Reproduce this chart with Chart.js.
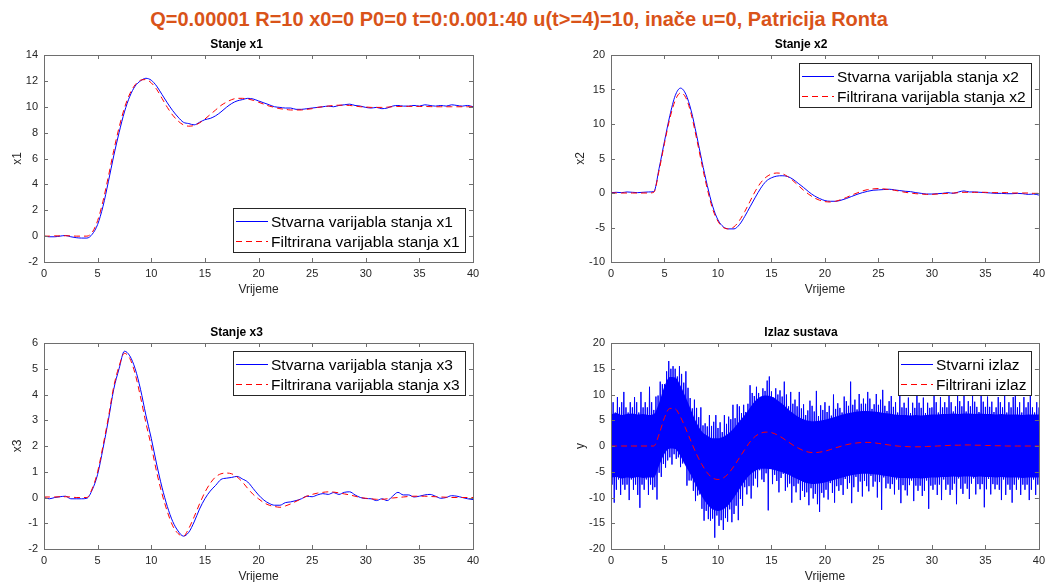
<!DOCTYPE html>
<html>
<head>
<meta charset="utf-8">
<script src="https://cdn.jsdelivr.net/npm/chart.js@4.4.1/dist/chart.umd.min.js"></script>
<style>
  html, body { margin: 0; padding: 0; background: #fff; }
  body { width: 1050px; height: 582px; overflow: hidden; position: relative; }
  #naslov {
    position: absolute; left: 0; top: 7px; width: 1038px; text-align: center;
    font: bold 20px "Liberation Sans", Arial, sans-serif; line-height: 24px;
    color: #D95319; white-space: nowrap;
  }
  canvas { position: absolute; }
</style>
</head>
<body>
<div id="naslov">Q=0.00001 R=10 x0=0 P0=0 t=0:0.001:40 u(t&gt;=4)=10, inače u=0, Patricija Ronta</div>
<canvas id="c1" width="500" height="272" style="left:0;top:30px"></canvas>
<canvas id="c2" width="487" height="272" style="left:563px;top:30px"></canvas>
<canvas id="c3" width="500" height="271" style="left:0;top:318px"></canvas>
<canvas id="c4" width="487" height="271" style="left:563px;top:318px"></canvas>
<script>
// vremenska os: t = 0:0.5:40
var vrijeme = [];
for (var i = 0; i <= 80; i++) vrijeme.push(i * 0.5);

var stvarnoX1 = [0, -0.05, -0.05, 0, 0.05, -0.05, -0.12, -0.15, -0.15, 0.15,
  0.9, 2.3, 4.2, 6.2, 8.0, 9.6, 10.8, 11.6, 12.0, 12.2,
  12.05, 11.6, 10.95, 10.3, 9.7, 9.2, 8.8, 8.7, 8.6, 8.8,
  9.0, 9.1, 9.3, 9.6, 9.95, 10.25, 10.45, 10.55, 10.65, 10.6,
  10.45, 10.3, 10.15, 10.0, 9.95, 9.9, 9.9, 9.8, 9.8, 9.85,
  9.9, 9.95, 10.0, 10.05, 10.0, 10.1, 10.15, 10.2, 10.1, 10.05,
  9.95, 9.9, 9.95, 9.85, 9.9, 10.05, 10.1, 10.05, 10.05, 10.1,
  10.05, 10.15, 10.1, 10.05, 10.1, 10.05, 10.15, 10.1, 10.05, 10.1,
  10.0];
var filtX1 = [0, 0, 0.02, 0.02, 0.03, 0.02, 0, 0, 0, 0.3,
  1.2, 2.7, 4.6, 6.6, 8.4, 9.9, 11.0, 11.7, 12.05, 12.1,
  11.85, 11.35, 10.65, 9.95, 9.35, 8.9, 8.6, 8.5, 8.55, 8.75,
  9.05, 9.4, 9.75, 10.1, 10.35, 10.55, 10.65, 10.65, 10.6, 10.5,
  10.35, 10.2, 10.05, 9.95, 9.85, 9.8, 9.75, 9.75, 9.75, 9.8,
  9.85, 9.95, 10.0, 10.05, 10.1, 10.12, 10.12, 10.1, 10.05, 10.0,
  9.98, 9.95, 9.95, 9.95, 9.97, 10.0, 10.02, 10.03, 10.03, 10.03,
  10.02, 10.02, 10.01, 10.0, 10.0, 10.0, 10.0, 10.0, 10.0, 10.0,
  10.0];

var stvarnoX2 = [0.05, 0.1, 0.05, 0.15, 0.1, 0.05, 0.1, 0.15, 0.2, 3.6,
  7.5, 11.2, 14.1, 15.2, 14.3, 11.9, 8.4, 4.6, 1.1, -1.9,
  -3.9, -4.9, -5.2, -5.2, -4.6, -3.4, -2.0, -0.6, 0.7, 1.7,
  2.2, 2.45, 2.5, 2.4, 2.0, 1.4, 0.8, 0.15, -0.4, -0.8,
  -1.1, -1.2, -1.2, -1.05, -0.8, -0.5, -0.2, 0.05, 0.25, 0.4,
  0.45, 0.5, 0.55, 0.45, 0.35, 0.25, 0.2, 0.05, -0.05, -0.15,
  -0.15, -0.1, -0.05, 0.05, -0.05, 0.15, 0.3, 0.15, 0.15, 0.1,
  0.05, 0, -0.05, -0.05, -0.1, -0.1, -0.05, -0.1, -0.2, -0.15,
  -0.3];
var filtX2 = [0, 0, 0, 0, 0, 0, 0, 0, 0.1, 3.3,
  7.2, 10.8, 13.4, 14.5, 13.8, 11.4, 7.9, 4.1, 0.6, -2.3,
  -4.1, -5.0, -5.2, -4.9, -4.0, -2.7, -1.2, 0.3, 1.5, 2.3,
  2.75, 2.9, 2.8, 2.4, 1.8, 1.1, 0.4, -0.2, -0.7, -1.05,
  -1.25, -1.3, -1.2, -0.95, -0.65, -0.3, 0, 0.3, 0.5, 0.6,
  0.65, 0.6, 0.5, 0.4, 0.25, 0.1, 0, -0.1, -0.15, -0.2,
  -0.2, -0.15, -0.1, -0.05, 0, 0.05, 0.1, 0.1, 0.1, 0.1,
  0.1, 0.05, 0.05, 0.05, 0.05, 0, 0, 0, 0, -0.05,
  -0.05];

var stvarnoX3 = [0, -0.05, 0, 0.03, 0.05, -0.05, -0.05, -0.05, -0.03, 0.3,
  0.9, 1.9, 3.0, 4.2, 5.0, 5.68, 5.5, 5.0, 4.2, 3.2,
  2.3, 1.3, 0.4, -0.35, -0.93, -1.3, -1.5, -1.35, -0.95, -0.45,
  -0.05, 0.25, 0.47, 0.7, 0.75, 0.78, 0.82, 0.72, 0.6, 0.35,
  0.1, -0.1, -0.23, -0.3, -0.3, -0.2, -0.17, -0.12, -0.05, 0.05,
  0.03, 0.1, 0.15, 0.12, 0.19, 0.12, 0.2, 0.22, 0.1, 0,
  -0.04, -0.05, -0.12, -0.05, -0.12, 0.05, 0.2, 0.1, 0.1, 0.02,
  0.05, 0.1, 0.12, 0.05, -0.03, 0, 0.07, 0.05, 0, -0.05,
  -0.08];
var filtX3 = [0.02, 0.02, 0.02, 0.03, 0.03, 0.02, 0, 0, 0, 0.35,
  1.0, 2.0, 3.1, 4.3, 5.1, 5.6, 5.4, 4.8, 3.9, 2.9,
  2.0, 1.0, 0.15, -0.55, -1.1, -1.4, -1.5, -1.2, -0.75, -0.25,
  0.2, 0.55, 0.8, 0.92, 0.95, 0.92, 0.8, 0.6, 0.35, 0.12,
  -0.05, -0.2, -0.3, -0.35, -0.38, -0.33, -0.25, -0.15, -0.05, 0.05,
  0.12, 0.17, 0.2, 0.22, 0.21, 0.18, 0.14, 0.1, 0.05, 0,
  -0.03, -0.05, -0.07, -0.07, -0.05, -0.02, 0, 0.02, 0.04, 0.05,
  0.05, 0.05, 0.04, 0.03, 0.02, 0.01, 0, 0, 0, 0,
  0];

var filtIzlaz = [0, 0, 0, 0, 0, 0, 0, 0, 0, 2.3,
  5.5, 7.3, 7.2, 5.6, 3.3, 0.8, -1.6, -3.6, -5.2, -6.2,
  -6.5, -6.2, -5.3, -3.9, -2.3, -0.7, 0.8, 1.9, 2.5, 2.7,
  2.6, 2.2, 1.6, 0.9, 0.2, -0.4, -0.9, -1.2, -1.28, -1.2,
  -1.0, -0.7, -0.35, -0.05, 0.25, 0.45, 0.6, 0.68, 0.7, 0.65,
  0.5, 0.35, 0.2, 0.05, -0.05, -0.1, -0.15, -0.15, -0.15, -0.1,
  -0.05, 0, 0.05, 0.1, 0.15, 0.15, 0.2, 0.2, 0.15, 0.15,
  0.1, 0.1, 0.05, 0.05, 0, 0, 0, 0, 0, 0,
  0];

// gusti dio suma stvarnog izlaza (rubovi pune plave trake), t = 0:0.5:40
var jezgraGore = [6.1, 6.4, 6.0, 6.2, 6.3, 6.1, 6.2, 6.0, 6.2, 8.4,
  11.6, 13.4, 13.3, 11.7, 9.4, 6.9, 4.5, 2.8, 2.0, 1.5,
  1.5, 1.8, 2.5, 3.5, 4.8, 6.0, 7.5, 8.8, 9.6, 9.8,
  9.6, 9.0, 8.2, 7.3, 6.4, 5.7, 5.2, 4.9, 4.8, 4.9,
  5.1, 5.4, 5.7, 6.0, 6.3, 6.5, 6.7, 6.8, 6.8, 6.7,
  6.6, 6.4, 6.3, 6.1, 6.0, 6.0, 5.9, 6.0, 5.9, 6.0,
  6.1, 6.1, 6.2, 6.2, 6.3, 6.2, 6.3, 6.3, 6.2, 6.3,
  6.2, 6.2, 6.1, 6.2, 6.1, 6.1, 6.1, 6.0, 6.1, 6.1,
  6.1];
var jezgraDolje = [-6.1, -6.0, -6.3, -6.1, -6.2, -6.0, -6.2, -6.1, -6.1, -3.8,
  -1.5, -0.5, -0.6, -2.0, -4.0, -5.8, -7.9, -9.8, -11.3, -12.3,
  -12.6, -12.3, -11.4, -10.0, -8.4, -6.8, -5.6, -4.8, -4.4, -4.4,
  -4.5, -4.8, -5.1, -5.5, -6.0, -6.5, -7.0, -7.3, -7.4, -7.3,
  -7.1, -6.8, -6.5, -6.2, -5.9, -5.7, -5.5, -5.4, -5.4, -5.5,
  -5.6, -5.8, -5.9, -6.1, -6.2, -6.2, -6.3, -6.2, -6.3, -6.2,
  -6.1, -6.1, -6.0, -6.0, -5.9, -6.0, -5.9, -5.9, -6.0, -5.9,
  -6.0, -6.0, -6.1, -6.0, -6.1, -6.1, -6.1, -6.2, -6.1, -6.1,
  -6.1];

// vrhovi suma: gornji u t = 0:0.2:40, donji u t = 0.1:0.2:39.9
var izlazGore = [7.5, 8.5, 6.5, 9.5, 7.5, 8.5, 10.5, 7.5, 6.5, 8.5,
  7.5, 9.5, 8.5, 6.5, 10.5, 7.5, 8.5, 7.5, 11.5, 8.5,
  7, 9.6, 9.8, 12.5, 12, 12, 14.5, 16.5, 15, 15.5,
  15, 13.5, 15.5, 14, 12.3, 14.5, 11.3, 9.3, 7.3, 9,
  7.4, 5.6, 7.5, 4, 4.4, 3.8, 6, 3.9, 4.7, 6,
  3.5, 4.6, 2.7, 6, 4.3, 5.7, 5.2, 8, 5.4, 8.1,
  7.7, 6.4, 8, 6.6, 8.2, 11.8, 10.3, 9.7, 11.5, 10.3,
  9.5, 11.2, 10.7, 12.7, 13.5, 10.6, 9.4, 11.2, 10, 10.8,
  9.6, 12.5, 10, 7.7, 10.5, 8.2, 9, 7.7, 10.5, 7.3,
  8.1, 6, 6.9, 8.8, 7.8, 6.7, 10.7, 5.8, 7.9, 7,
  8.5, 6.6, 7.8, 5.9, 10, 7.2, 8.3, 7.4, 6.5, 9.6,
  8.7, 7.8, 12.5, 8, 9, 7.1, 10.1, 8.2, 9.2, 8.2,
  10.5, 9.2, 7.2, 8.1, 10.1, 8, 9, 10.9, 7.8, 6.8,
  8.7, 9.7, 7.6, 8.5, 6.5, 10.5, 7.5, 8.4, 7.4, 9.4,
  6.4, 8.4, 7.4, 11.4, 8.4, 7.4, 9.4, 6.4, 8.4, 7.4,
  7.5, 10.5, 8.5, 6.5, 9.5, 7.5, 8.5, 7.5, 10.5, 8.5,
  6.7, 7.7, 9.7, 8.7, 7.7, 10.7, 6.7, 8.7, 7.7, 9.7,
  8.6, 7.6, 6.6, 10.6, 8.6, 7.6, 9.6, 7.6, 8.6, 6.6,
  7.5, 9.5, 8.5, 7.5, 10.5, 6.5, 8.5, 7.5, 9.5, 12,
  7.5, 8.5, 6.5, 9.5, 7.5, 8.5, 10.5, 7.5, 6.5, 8.5,
  7.5];
var izlazDolje = [-7.5, -11, -8.5, -6.5, -9.5, -7.5, -8.5, -7.5, -10.5, -6.5,
  -8.5, -7.5, -9.5, -12, -7.5, -8.5, -6.5, -9.5, -7.5, -8.5,
  -8, -10.4, -5.2, -6, -3.5, -4.2, -2.8, -2.2, -3.6, -1.6,
  -2.5, -2.2, -4.1, -3.4, -2.7, -7.7, -6.7, -6.7, -8.7, -10.7,
  -9.6, -9.4, -12.2, -14.5, -12.6, -14.2, -14.5, -14.1, -17.8, -13.5,
  -15.5, -14.4, -16.3, -14, -14.7, -12.3, -14.8, -13.2, -11.6, -14.4,
  -10.3, -11.6, -8, -9.4, -7.8, -10.2, -7.7, -6.3, -8, -4.7,
  -6.5, -7, -5.3, -12.5, -4.3, -7.4, -5.6, -6.8, -9, -6.2,
  -5.4, -8.7, -8, -7.3, -11, -7.8, -9, -7.3, -10.5, -8.7,
  -9.9, -9, -11.5, -8.2, -10.2, -9.3, -11.3, -12.8, -9.1, -10,
  -8.5, -10.4, -7.2, -9.1, -11, -7.8, -8.7, -7.6, -9.5, -6.4,
  -8.3, -7.2, -11.1, -8, -6, -8.9, -6.9, -9.8, -6.8, -7.8,
  -8.8, -5.8, -7.9, -6.9, -10, -7, -12.4, -6.1, -8.2, -7.3,
  -8.3, -7.4, -9.4, -6.5, -8.5, -11.1, -7.6, -8.6, -9.6, -7.6,
  -6.7, -10.7, -7.7, -8.7, -7.7, -9.7, -8.7, -6.7, -12.2, -7.7,
  -8.5, -7.5, -9.5, -7.5, -10.5, -6.5, -8.5, -7.5, -9.5, -8.5,
  -7.3, -11.3, -6.3, -8.3, -9.3, -7.3, -8.3, -10.3, -7.3, -6.3,
  -9.4, -7.4, -8.4, -7.4, -11.9, -8.4, -6.4, -9.4, -7.4, -8.4,
  -7.5, -8.5, -10.5, -6.5, -9.5, -7.5, -8.5, -11, -7.5, -8.5,
  -6.5, -9.5, -7.5, -8.5, -7.5, -10.5, -8.5, -6.5, -9.5, -7.5];

var FONT = '"Liberation Sans", Arial, sans-serif';
var SIVA = '#262626';

function tocke(tt, vv) {
  return tt.map(function (t, i) { return { x: t, y: vv[i] }; });
}

function sumoviteTocke() {
  var pts = [];
  for (var i = 0; i < izlazGore.length; i++) {
    pts.push({ x: i * 0.2, y: izlazGore[i] });
    if (i < izlazDolje.length) pts.push({ x: i * 0.2 + 0.1, y: izlazDolje[i] });
  }
  return pts;
}

// okvir, unutarnje crtice i legenda u stilu MATLAB-a
var okvirPlugin = {
  id: 'okvir',
  afterDraw: function (chart, args, opts) {
    var ctx = chart.ctx, a = chart.chartArea;
    var x = chart.scales.x, y = chart.scales.y;
    ctx.save();
    ctx.strokeStyle = '#6e6e6e';
    ctx.lineWidth = 1;
    ctx.beginPath();
    x.ticks.forEach(function (t) {
      var px = Math.round(x.getPixelForValue(t.value)) + 0.5;
      ctx.moveTo(px, a.bottom); ctx.lineTo(px, a.bottom - 4);
      ctx.moveTo(px, a.top); ctx.lineTo(px, a.top + 4);
    });
    y.ticks.forEach(function (t) {
      var py = Math.round(y.getPixelForValue(t.value)) + 0.5;
      ctx.moveTo(a.left, py); ctx.lineTo(a.left + 4, py);
      ctx.moveTo(a.right, py); ctx.lineTo(a.right - 4, py);
    });
    ctx.stroke();
    ctx.strokeRect(Math.round(a.left) + 0.5, Math.round(a.top) + 0.5,
      Math.round(a.right - a.left), Math.round(a.bottom - a.top));

    // legenda
    var ds = chart.data.datasets.filter(function (d) { return d.label; });
    ctx.font = '15.5px ' + FONT;
    var w = 0;
    ds.forEach(function (d) { w = Math.max(w, ctx.measureText(d.label).width); });
    var bw = Math.round(38 + w + 5), bh = 44;
    var bx = Math.round(a.right - 8 - bw);
    var by = opts.dolje ? Math.round(a.bottom - 10 - bh) : Math.round(a.top + 8);
    ctx.fillStyle = '#fff';
    ctx.fillRect(bx, by, bw, bh);
    ctx.strokeStyle = '#262626';
    ctx.strokeRect(bx + 0.5, by + 0.5, bw, bh);
    ds.forEach(function (d, k) {
      var ry = by + 13.5 + k * 20;
      ctx.strokeStyle = d.borderColor;
      ctx.lineWidth = 1;
      ctx.setLineDash(d.borderDash || []);
      ctx.beginPath();
      ctx.moveTo(bx + 3, ry); ctx.lineTo(bx + 35, ry);
      ctx.stroke();
      ctx.setLineDash([]);
      ctx.fillStyle = '#000';
      ctx.textBaseline = 'middle';
      ctx.textAlign = 'left';
      ctx.fillText(d.label, bx + 38, ry + 1);
    });
    ctx.restore();
  }
};

function napraviGraf(id, cfg) {
  var ctx = document.getElementById(id).getContext('2d');
  var skupovi = [
    {
      label: cfg.labele[0],
      data: cfg.stvarno,
      borderColor: '#0000ff',
      borderWidth: 1,
      pointRadius: 0,
      cubicInterpolationMode: cfg.sum ? 'default' : 'monotone',
      tension: 0,
      order: 2
    },
    {
      label: cfg.labele[1],
      data: cfg.filtrirano,
      borderColor: '#ff0000',
      borderWidth: 1,
      borderDash: [6, 4],
      pointRadius: 0,
      cubicInterpolationMode: 'monotone',
      order: 1
    }
  ];
  if (cfg.jezgra) {
    // puna traka gustog suma ispod pojedinacnih vrhova
    skupovi.push({
      data: tocke(vrijeme, cfg.jezgra[0]),
      borderWidth: 0, pointRadius: 0,
      backgroundColor: '#0000ff',
      cubicInterpolationMode: 'monotone',
      fill: '+1',
      order: 4
    });
    skupovi.push({
      data: tocke(vrijeme, cfg.jezgra[1]),
      borderWidth: 0, pointRadius: 0,
      backgroundColor: '#0000ff',
      cubicInterpolationMode: 'monotone',
      fill: false,
      order: 3
    });
  }
  return new Chart(ctx, {
    type: 'line',
    data: { datasets: skupovi },
    options: {
      responsive: false,
      animation: false,
      events: [],
      layout: { padding: { left: 0, right: cfg.desno, top: 0, bottom: 0 } },
      plugins: {
        legend: { display: false },
        tooltip: { enabled: false },
        title: {
          display: true,
          text: cfg.naslov,
          color: '#000',
          font: { family: FONT, size: 12, weight: 'bold', lineHeight: '13px' },
          padding: { top: 8, bottom: 4 }
        },
        okvir: { dolje: cfg.dolje }
      },
      scales: {
        x: {
          type: 'linear',
          min: 0, max: 40,
          grid: { display: false, drawTicks: false },
          border: { display: false },
          ticks: { stepSize: 5, padding: 5, color: SIVA, font: { family: FONT, size: 11 } },
          title: { display: true, text: 'Vrijeme', color: SIVA, font: { family: FONT, size: 12 }, padding: { top: 0, bottom: 5 } },
          afterFit: function (s) { s.height = 40; }
        },
        y: {
          min: cfg.ymin, max: cfg.ymax,
          grid: { display: false, drawTicks: false },
          border: { display: false },
          ticks: { stepSize: cfg.korak, padding: 6, color: SIVA, font: { family: FONT, size: 11 } },
          title: { display: true, text: cfg.yOznaka, color: SIVA, font: { family: FONT, size: 12 }, padding: { top: 10, bottom: 0 } },
          afterFit: function (s) { s.width = cfg.sirinaY; }
        }
      }
    },
    plugins: [okvirPlugin]
  });
}

napraviGraf('c1', {
  naslov: 'Stanje x1', yOznaka: 'x1', ymin: -2, ymax: 14, korak: 2,
  stvarno: tocke(vrijeme, stvarnoX1), filtrirano: tocke(vrijeme, filtX1),
  labele: ['Stvarna varijabla stanja x1', 'Filtrirana varijabla stanja x1'],
  dolje: true, sirinaY: 44, desno: 27
});
napraviGraf('c2', {
  naslov: 'Stanje x2', yOznaka: 'x2', ymin: -10, ymax: 20, korak: 5,
  stvarno: tocke(vrijeme, stvarnoX2), filtrirano: tocke(vrijeme, filtX2),
  labele: ['Stvarna varijabla stanja x2', 'Filtrirana varijabla stanja x2'],
  dolje: false, sirinaY: 48, desno: 11
});
napraviGraf('c3', {
  naslov: 'Stanje x3', yOznaka: 'x3', ymin: -2, ymax: 6, korak: 1,
  stvarno: tocke(vrijeme, stvarnoX3), filtrirano: tocke(vrijeme, filtX3),
  labele: ['Stvarna varijabla stanja x3', 'Filtrirana varijabla stanja x3'],
  dolje: false, sirinaY: 44, desno: 27
});
napraviGraf('c4', {
  naslov: 'Izlaz sustava', yOznaka: 'y', ymin: -20, ymax: 20, korak: 5,
  stvarno: sumoviteTocke(), filtrirano: tocke(vrijeme, filtIzlaz), sum: true,
  jezgra: [jezgraGore, jezgraDolje],
  labele: ['Stvarni izlaz', 'Filtrirani izlaz'],
  dolje: false, sirinaY: 48, desno: 11
});
</script>
</body>
</html>
